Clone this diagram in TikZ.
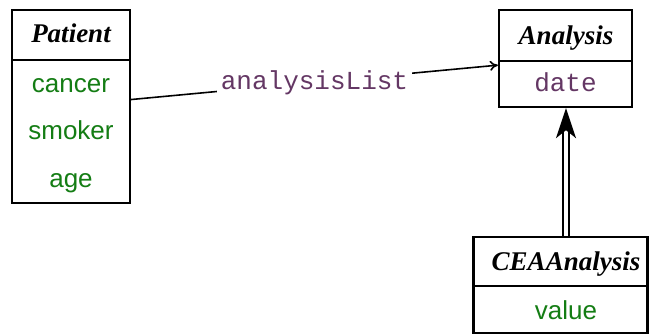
\documentclass[tikz,border=0pt]{standalone}
\usepackage{fontspec}
\setmainfont{Liberation Serif}
\newfontfamily\attrsans{Liberation Sans}
\newfontfamily\attrmono{Liberation Mono}
\usetikzlibrary{arrows.meta,calc}
\definecolor{attrgreen}{RGB}{20,125,20}
\definecolor{attrpurple}{RGB}{100,55,100}
\tikzset{
  box/.style={draw=black, line width=2.3pt, rectangle, inner sep=0pt},
  headtxt/.style={anchor=base, inner sep=0pt, font=\fontsize{27}{31}\selectfont\bfseries\itshape},
  gtxt/.style={anchor=base, inner sep=0pt, text=attrgreen, font=\fontsize{26}{30}\selectfont\attrsans},
  mtxt/.style={anchor=base, inner sep=0pt, text=attrpurple, font=\fontsize{26}{30}\selectfont\attrmono},
  assoc/.style={line width=1.6pt, -{To[length=8pt,width=10pt]}},
  inherit/.style={double=white, double distance=4pt, line width=2pt, -{Stealth[length=30pt,width=20pt,inset=8pt]}}
}
\begin{document}
\begin{tikzpicture}[x=1pt,y=1pt]
\useasboundingbox (0,0) rectangle (649,335);
\clip (0,0) rectangle (649,335);
\fill[white] (0,0) rectangle (649,335);
% Patient
\node[box, minimum width=118pt, minimum height=50pt] (ph) at (71,300) {};
\node[box, minimum width=118pt, minimum height=143pt] (pb) at (71,203.5) {};
\node[headtxt] (pt) at (71,292) {Patient};
\node[gtxt] (p1) at (71,242) {cancer};
\node[gtxt] (p2) at (71,195) {smoker};
\node[gtxt] (p3) at (71,147) {age};
% Analysis
\node[box, minimum width=133pt, minimum height=51pt] (ah) at (565.5,299.5) {};
\node[box, minimum width=133pt, minimum height=46pt] (ab) at (565.5,251) {};
\node[headtxt] (at) at (566,290) {Analysis};
\node[mtxt] (a1) at (565.5,243) {date};
% CEAAnalysis
\node[box, minimum width=174pt, minimum height=49pt] (ch) at (560.5,73.5) {};
\node[box, minimum width=174pt, minimum height=47pt] (cb) at (560.5,25.5) {};
\node[headtxt] (ct) at (566,64) {CEAAnalysis};
\node[gtxt] (c1) at (566,15) {value};
% connectors
\draw[assoc] ($(pb.north east)!0.28!(pb.south east)$) -- node[fill=white, inner sep=4pt, text=attrpurple, font=\fontsize{26}{30}\selectfont\attrmono] (lbl) {analysisList} ($(ab.north west)!0.11!(ab.south west)$);
\draw[inherit] (ch.north -| 566,0) -- (ab.south -| 566,0);
\end{tikzpicture}
\end{document}
